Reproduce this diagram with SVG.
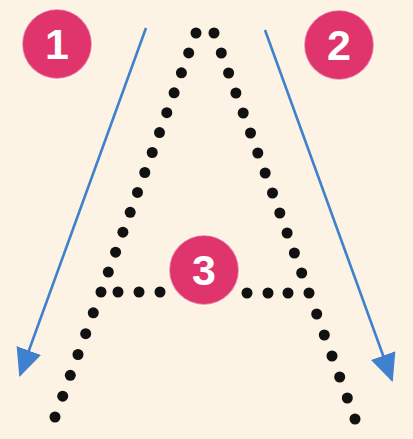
<svg xmlns="http://www.w3.org/2000/svg" width="413" height="439" viewBox="0 0 413 439">
<style>
.d{fill:#111}
.arrow{stroke:#3f80cf;stroke-width:2.6;fill:none}
.badge{fill:#e0356c;stroke:#fff;stroke-opacity:0.5;stroke-width:2}
.num{fill:#fff;font-family:"Liberation Sans",Arial,sans-serif;font-weight:bold;font-size:43px;text-anchor:middle}
</style>
<defs>
<marker id="head" markerUnits="userSpaceOnUse" markerWidth="30" markerHeight="26" refX="26" refY="13" orient="auto" viewBox="0 0 30 26">
<path d="M0,0 L28,13 L0,26 z" fill="#3f80cf"/>
</marker>
<circle id="dot" r="5.5"/>
</defs>
<rect width="413" height="439" fill="#fcf3e4"/>
<g id="letter-A" class="d">
<use href="#dot" x="196" y="33"/><use href="#dot" x="188.7" y="52.9"/><use href="#dot" x="181.4" y="72.8"/><use href="#dot" x="174.1" y="92.8"/><use href="#dot" x="166.8" y="112.7"/><use href="#dot" x="159.5" y="132.6"/><use href="#dot" x="152.2" y="152.5"/><use href="#dot" x="144.8" y="172.5"/><use href="#dot" x="137.5" y="192.4"/><use href="#dot" x="130.2" y="212.3"/><use href="#dot" x="122.9" y="232.2"/><use href="#dot" x="115.6" y="252.2"/><use href="#dot" x="108.3" y="272.1"/><use href="#dot" x="101" y="292"/><use href="#dot" x="93.3" y="312.8"/><use href="#dot" x="85.7" y="333.7"/><use href="#dot" x="78" y="354.5"/><use href="#dot" x="70.3" y="375.3"/><use href="#dot" x="62.7" y="396.2"/><use href="#dot" x="55" y="417"/>
<use href="#dot" x="214" y="33"/><use href="#dot" x="221.3" y="53"/><use href="#dot" x="228.6" y="73"/><use href="#dot" x="235.9" y="93"/><use href="#dot" x="243.2" y="113"/><use href="#dot" x="250.5" y="133"/><use href="#dot" x="257.8" y="153"/><use href="#dot" x="265.2" y="173"/><use href="#dot" x="272.5" y="193"/><use href="#dot" x="279.8" y="213"/><use href="#dot" x="287.1" y="233"/><use href="#dot" x="294.4" y="253"/><use href="#dot" x="301.7" y="273"/><use href="#dot" x="309" y="293"/><use href="#dot" x="316.7" y="314"/><use href="#dot" x="324.3" y="335"/><use href="#dot" x="332" y="356"/><use href="#dot" x="339.7" y="377"/><use href="#dot" x="347.3" y="398"/><use href="#dot" x="355" y="419"/>
<use href="#dot" x="118" y="292"/><use href="#dot" x="139" y="292"/><use href="#dot" x="160" y="292"/>
<use href="#dot" x="247" y="293"/><use href="#dot" x="268" y="293"/><use href="#dot" x="288" y="293"/>
</g>
<g id="connectors">
<line class="arrow" x1="146" y1="28" x2="20" y2="375" marker-end="url(#head)"/>
<line class="arrow" x1="265" y1="30" x2="392" y2="380" marker-end="url(#head)"/>
</g>
<g id="step1">
<circle class="badge" cx="57" cy="44" r="35"/>
<text class="num" x="57" y="59">1</text>
</g>
<g id="step2">
<circle class="badge" cx="339" cy="45" r="35"/>
<text class="num" x="339" y="60">2</text>
</g>
<g id="step3">
<circle class="badge" cx="204" cy="270" r="35"/>
<text class="num" x="204" y="285">3</text>
</g>
</svg>
